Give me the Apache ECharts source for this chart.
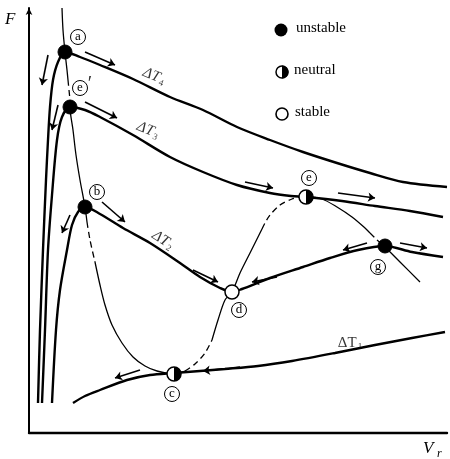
<!DOCTYPE html>
<html>
<head>
<meta charset="utf-8">
<script src="https://cdn.jsdelivr.net/npm/echarts@6/dist/echarts.min.js"></script>
<style>
  html, body { margin: 0; padding: 0; background: #fff; }
  #chart { width: 450px; height: 459px; }
</style>
</head>
<body>
<div id="chart"></div>
<script>
// Characteristic curves F(V_r) for four temperature differences
const dT4 = [[9,30],[11,103],[14,183],[17,253],[19,293],[21,326],[24,353],[29,371],[36,381],[51,376],[71,368],[104,354],[141,336],[174,323],[208,306],[241,293],[274,281],[308,270],[341,260],[374,251],[418,246]];
const dT3 = [[13,30],[16,103],[19,183],[23,238],[28,293],[33,316],[41,326],[56,323],[71,316],[104,298],[141,276],[174,261],[208,248],[241,240],[262,237],[277,236],[313,232],[346,227],[381,222],[414,216]];
const dT2 = [[23,30],[27,103],[31,143],[38,183],[43,208],[49,221],[56,226],[71,219],[94,205],[121,190],[151,170],[171,156],[191,145],[203,141],[213,144],[241,155],[274,166],[301,175],[329,183],[356,187],[383,181],[414,176]];
const dT1 = [[44,30],[56,37],[71,43],[98,53],[121,58],[145,60],[171,62],[196,64],[229,67],[263,72],[306,80],[346,88],[383,95],[416,101]];

// Locus of the operating points, solid and dashed stretches
const locusSolid = [
  [[33,425],[34,403],[36,381],[38,363],[39,353]],
  [[41,333],[41,326],[44,303],[47,278],[51,253],[56,226],[58,211]],
  [[66,171],[71,148],[76,128],[83,108],[93,90],[104,76],[116,67],[128,62],[145,59],[156,62]],
  [[183,93],[189,113],[196,133],[203,141],[211,160],[221,180],[229,196],[233,204]],
  [[271,236],[278,236],[293,234],[308,226],[323,216],[336,205],[341,200]],
  [[348,193],[356,186],[371,171],[391,151]]
];
const locusDashed = [
  [[39,353],[41,333]],
  [[58,211],[61,193],[66,171]],
  [[156,62],[166,69],[176,80],[183,93]],
  [[233,204],[236,210],[241,218],[251,228],[263,234],[271,236]],
  [[341,200],[348,193]]
];

// Operating points by stability
const unstablePts = [['a',36,381],['e′',41,326],['b',56,226],['g',356,187]];
const neutralPts = [['c',145,59],['e',277,236]];
const stablePts = [['d',203,141]];

// Circled point letters
const pointTags = [['a',49,396],['e',51,345],['b',68,241],['c',143,39],['d',210,123],['e',280,255],['g',349,166]];

// Curve names and their rotation
const curveNames = [['4',125,357,-22],['3',119,303,-22],['2',134,193,-33],['1',321,90,0]];

// Direction arrows [x1,y1,x2,y2]
const arrows = [
  [56,381,86,368],[19,378,13,348],
  [56,331,88,315],[29,328,23,303],
  [73,231,96,211],[41,218,33,200],
  [164,163,189,151],[248,156,223,151],
  [338,190,314,183],[371,190,398,185],
  [216,251,244,245],[309,240,346,235],
  [111,63,86,55],[211,66,174,62]
];

const serif = '"Liberation Serif", "DejaVu Serif", serif';
const chart = echarts.init(document.getElementById('chart'));

const curveSeries = [dT4, dT3, dT2, dT1].map(d => ({
  type: 'line', data: d, showSymbol: false, smooth: 0.3, silent: true, z: 3,
  lineStyle: { color: '#000', width: 2.4 }
}));
const locusSeries = locusSolid.map(d => ({
  type: 'line', data: d, showSymbol: false, smooth: 0.3, silent: true, z: 2,
  lineStyle: { color: '#000', width: 1.3 }
})).concat(locusDashed.map(d => ({
  type: 'line', data: d, showSymbol: false, smooth: 0.3, silent: true, z: 2,
  lineStyle: { color: '#000', width: 1.3, type: [6, 4] }
})));

chart.setOption({
  animation: false,
  grid: { left: 29, right: 3, top: 8, bottom: 26 },
  xAxis: {
    type: 'value', min: 0, max: 418,
    axisLine: { show: true, lineStyle: { color: '#000', width: 2.4 } },
    axisTick: { show: false }, axisLabel: { show: false }, splitLine: { show: false }
  },
  yAxis: {
    type: 'value', min: 0, max: 425,
    axisLine: { show: true, symbol: ['none', 'arrow'], symbolSize: [5, 7], lineStyle: { color: '#000', width: 2 } },
    axisTick: { show: false }, axisLabel: { show: false }, splitLine: { show: false }
  },
  series: [
    ...curveSeries,
    ...locusSeries,
    {
      type: 'lines', coordinateSystem: 'cartesian2d', silent: true, z: 4,
      symbol: ['none', 'arrow'], symbolSize: 7,
      lineStyle: { color: '#000', width: 1.6, opacity: 1 },
      data: arrows.map(a => ({ coords: [[a[0], a[1]], [a[2], a[3]]] }))
    },
    {
      type: 'scatter', silent: true, z: 6, symbol: 'circle', symbolSize: 14,
      label: { show: false },
      itemStyle: { color: '#000', borderColor: '#000', borderWidth: 1, opacity: 1 },
      data: unstablePts.map(p => ({ name: p[0], value: [p[1], p[2]] }))
    },
    {
      type: 'scatter', silent: true, z: 6, symbol: 'circle', symbolSize: 14,
      label: { show: false },
      itemStyle: { color: '#fff', borderColor: '#000', borderWidth: 1.5, opacity: 1 },
      data: neutralPts.concat(stablePts).map(p => ({ name: p[0], value: [p[1], p[2]] }))
    },
    {
      type: 'scatter', silent: true, z: 7,
      symbol: 'path://M0,0 A10,10 0 0 1 0,20 Z', symbolSize: [7, 14], symbolOffset: [3.5, 0],
      label: { show: false },
      itemStyle: { color: '#000', opacity: 1 },
      data: neutralPts.map(p => ({ name: p[0], value: [p[1], p[2]] }))
    },
    {
      type: 'scatter', silent: true, z: 8, symbol: 'circle', symbolSize: 15,
      itemStyle: { color: '#fff', borderColor: '#000', borderWidth: 1, opacity: 1 },
      label: { show: true, position: 'inside', color: '#000', fontFamily: serif, fontSize: 13,
               formatter: p => p.name },
      data: pointTags.map(p => ({ name: p[0], value: [p[1], p[2]] }))
    },
    {
      type: 'scatter', silent: true, z: 8, symbolSize: 0,
      label: { show: true, position: 'inside', color: '#000', fontFamily: serif, fontSize: 20,
               formatter: '′' },
      data: [[61, 348]]
    },
    {
      type: 'scatter', silent: true, z: 8, symbolSize: 0,
      data: curveNames.map(c => ({
        value: [c[1], c[2]],
        label: {
          show: true, position: 'inside', rotate: c[3],
          formatter: '{m|ΔT}{s|' + c[0] + '}',
          rich: {
            m: { fontFamily: serif, fontSize: 15, fontStyle: c[3] ? 'italic' : 'normal', color: '#000' },
            s: { fontFamily: serif, fontSize: 9, color: '#000', padding: [8, 0, 0, 1] }
          }
        }
      }))
    }
  ],
  graphic: [
    { type: 'circle', shape: { cx: 281, cy: 30, r: 6.5 }, style: { fill: '#000' } },
    { type: 'circle', shape: { cx: 282, cy: 72, r: 6 }, style: { fill: '#fff', stroke: '#000', lineWidth: 1.5 } },
    { type: 'sector', shape: { cx: 282, cy: 72, r: 6.5, r0: 0, startAngle: -Math.PI / 2, endAngle: Math.PI / 2 }, style: { fill: '#000' } },
    { type: 'circle', shape: { cx: 282, cy: 114, r: 6 }, style: { fill: '#fff', stroke: '#000', lineWidth: 1.6 } },
    { type: 'text', left: 296, top: 21, style: { text: 'unstable', font: '15px ' + serif, fill: '#000' } },
    { type: 'text', left: 294, top: 63, style: { text: 'neutral', font: '15px ' + serif, fill: '#000' } },
    { type: 'text', left: 295, top: 105, style: { text: 'stable', font: '15px ' + serif, fill: '#000' } },
    { type: 'text', left: 5, top: 11, style: { text: 'F', font: 'italic 17px ' + serif, fill: '#000' } },
    { type: 'text', left: 423, top: 440, style: { text: 'V', font: 'italic 17px ' + serif, fill: '#000' } },
    { type: 'text', left: 437, top: 448, style: { text: 'r', font: 'italic 12px ' + serif, fill: '#000' } }
  ]
});
</script>
</body>
</html>
